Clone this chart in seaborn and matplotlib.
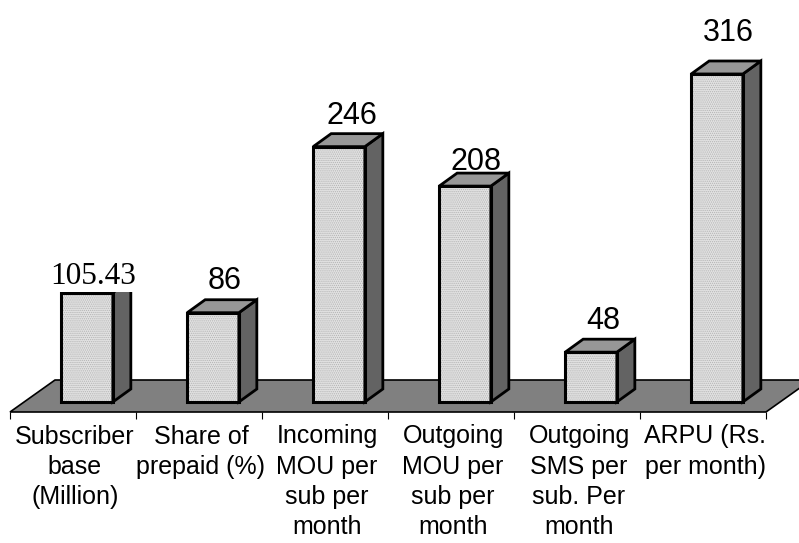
import matplotlib
matplotlib.use("Agg")
import matplotlib.pyplot as plt
from matplotlib.patches import Polygon
import pandas as pd
import seaborn as sns

categories = ["Subscriber\nbase\n(Million)", "Share of\nprepaid (%)", "Incoming\nMOU per\nsub per\nmonth",
              "Outgoing\nMOU per\nsub per\nmonth", "Outgoing\nSMS per\nsub. Per\nmonth", "ARPU (Rs.\nper month)"]
values = [105.43, 86, 246, 208, 48, 316]
value_labels = ["105.43", "86", "246", "208", "48", "316"]

sns.set_theme(style="white")
plt.rcParams["font.family"] = ["Liberation Sans", "DejaVu Sans"]
plt.rcParams["hatch.linewidth"] = 0.6

W, H = 799, 543
fig = plt.figure(figsize=(W / 100, H / 100), dpi=100)
ax = fig.add_axes([10 / W, (H - 412) / H, 756 / W, 412 / H])

df = pd.DataFrame({"cat": categories, "val": values})
sns.barplot(data=df, x="cat", y="val", color="#e2e2e2", saturation=1, width=0.41, ax=ax, zorder=3)

# one category = 126 px, one unit = 1.038 px
px = 1 / 126
py = 1 / 1.038
ax.set_xlabel("")
ax.set_ylabel("")
ax.set_yticks([])
for s in ax.spines.values():
    s.set_visible(False)

# tick marks sit on the category borders, labels in the middle
ax.set_xticks([i - 12 * px for i in range(6)])
ax.set_xticklabels(categories)
ax.tick_params(axis="x", which="major", bottom=False, pad=3, labelsize=18, labelcolor="black")
for t in ax.get_xticklabels():
    t.set_linespacing(1.33)
ax.set_xticks([i - 14 * px - 0.5 for i in range(7)], minor=True)
ax.tick_params(axis="x", which="minor", bottom=True, length=5, width=0.8, color="black")

ax.set_xlim(-77 * px, 679 * px)
ax.set_ylim(-10 * py, 402 * py)

# floor of the 3d chart
x0, x1 = ax.get_xlim()
y0 = ax.get_ylim()[0]
ax.add_patch(Polygon([(x0, y0), (x1, y0), (x1 + 45 * px, y0 + 32 * py), (x0 + 45 * px, y0 + 32 * py)],
                     facecolor="#808080", edgecolor="black", lw=1.2, zorder=1, clip_on=False))

# side and top faces come from the bars seaborn drew
dx = 18 * px
dy = 13 * py
for bar in ax.patches[:len(values)]:
    l, w, h = bar.get_x(), bar.get_width(), bar.get_height()
    r = l + w
    bar.set_edgecolor("#b4b4b4")
    bar.set_hatch("........")
    bar.set_linewidth(0)
    ax.add_patch(Polygon([(l, 0), (r, 0), (r, h), (l, h)], fill=False, edgecolor="black", lw=2.2, zorder=5, clip_on=False))
    ax.add_patch(Polygon([(r, 0), (r + dx, dy), (r + dx, h + dy), (r, h)], facecolor="#636363", edgecolor="black", lw=2, zorder=4, clip_on=False))
    ax.add_patch(Polygon([(l, h), (r, h), (r + dx, h + dy), (l + dx, h + dy)], facecolor="#979797", edgecolor="black", lw=2, zorder=4, clip_on=False))

label_dx = [6, 12, 13, 11, 12, 11]
label_dy = [9, 24, 23, 16, 23, 33]
for i, lab in enumerate(value_labels):
    first = i == 0
    ax.annotate(lab, (i, values[i]), xytext=(label_dx[i] * 0.72, label_dy[i] * 0.72), textcoords="offset points",
                ha="center", va="baseline", color="black", zorder=6, annotation_clip=False,
                fontsize=22.5 if first else 22, family="Liberation Serif" if first else "Liberation Sans",
                bbox=dict(facecolor="white", edgecolor="none", pad=1) if first else None)

fig.savefig("out.png", dpi=100)
